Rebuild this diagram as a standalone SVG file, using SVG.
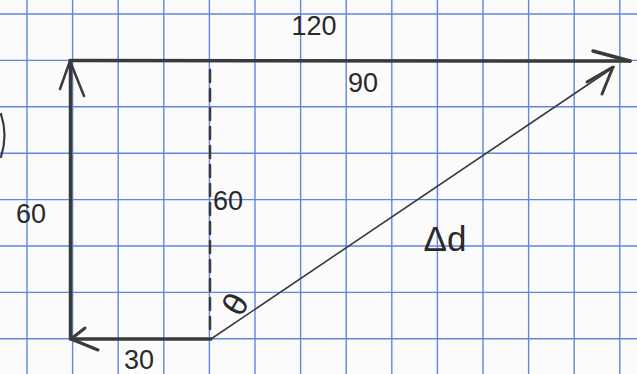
<svg xmlns="http://www.w3.org/2000/svg" width="637" height="374" viewBox="0 0 637 374">
<style>
.grid line{stroke:#6286de;stroke-width:1.4}
.pen{stroke:#3a3a3a;fill:none;stroke-linecap:round;stroke-linejoin:round}
.thick{stroke-width:3.5}
.thin{stroke-width:1.6}
.lbl{font-family:"Liberation Sans",Arial,sans-serif;font-size:27px;fill:#2a2a2a;text-anchor:middle}
</style>
<rect width="637" height="374" fill="#fbfbfc"/>
<g class="grid" id="grid">
<line x1="27" y1="0" x2="27" y2="374"/>
<line x1="72.6" y1="0" x2="72.6" y2="374"/>
<line x1="118.2" y1="0" x2="118.2" y2="374"/>
<line x1="163.8" y1="0" x2="163.8" y2="374"/>
<line x1="209.4" y1="0" x2="209.4" y2="374"/>
<line x1="255" y1="0" x2="255" y2="374"/>
<line x1="300.6" y1="0" x2="300.6" y2="374"/>
<line x1="346.2" y1="0" x2="346.2" y2="374"/>
<line x1="391.8" y1="0" x2="391.8" y2="374"/>
<line x1="437.4" y1="0" x2="437.4" y2="374"/>
<line x1="483" y1="0" x2="483" y2="374"/>
<line x1="528.6" y1="0" x2="528.6" y2="374"/>
<line x1="574.2" y1="0" x2="574.2" y2="374"/>
<line x1="619.8" y1="0" x2="619.8" y2="374"/>
<line x1="0" y1="14" x2="637" y2="14"/>
<line x1="0" y1="60.4" x2="637" y2="60.4"/>
<line x1="0" y1="106.8" x2="637" y2="106.8"/>
<line x1="0" y1="153.2" x2="637" y2="153.2"/>
<line x1="0" y1="199.6" x2="637" y2="199.6"/>
<line x1="0" y1="246" x2="637" y2="246"/>
<line x1="0" y1="292.4" x2="637" y2="292.4"/>
<line x1="0" y1="338.8" x2="637" y2="338.8"/>
</g>
<path class="pen" stroke-width="2.2" d="M1 114 Q8 135 1 157"/>
<g id="connectors">
<g id="vec-120">
<path class="pen thick" d="M70 60.5 L630 61"/>
<path class="pen thick" d="M593 51 L630 61"/>
</g>
<g id="vec-60-left">
<path class="pen thick" d="M70.5 339 L70.5 61"/>
<path class="pen" stroke-width="2.5" d="M60 89 L70 61 L84 96"/>
</g>
<g id="vec-30">
<path class="pen thick" d="M211 339 L71 339"/>
<path class="pen" stroke-width="3" d="M85 328 L71 339 L98 350"/>
</g>
<g id="dashed-60">
<path class="pen" stroke-width="2.5" stroke-dasharray="12 7" d="M210 70 L210 334"/>
</g>
<g id="vec-delta-d">
<path class="pen thin" d="M211 339 L614 67"/>
<path class="pen" stroke-width="3" d="M587 82 L613 67 L602 94"/>
</g>
</g>
<g id="labels">
<text class="lbl" x="314" y="35">120</text>
<text class="lbl" x="363" y="92">90</text>
<text class="lbl" x="31" y="223">60</text>
<text class="lbl" x="228" y="210">60</text>
<text class="lbl" x="235" y="316" style="font-size:34px" transform="rotate(-60 235 304)">θ</text>
<text class="lbl" x="139" y="369">30</text>
<text class="lbl" x="445" y="251" style="font-size:35px">Δd</text>
</g>
</svg>
